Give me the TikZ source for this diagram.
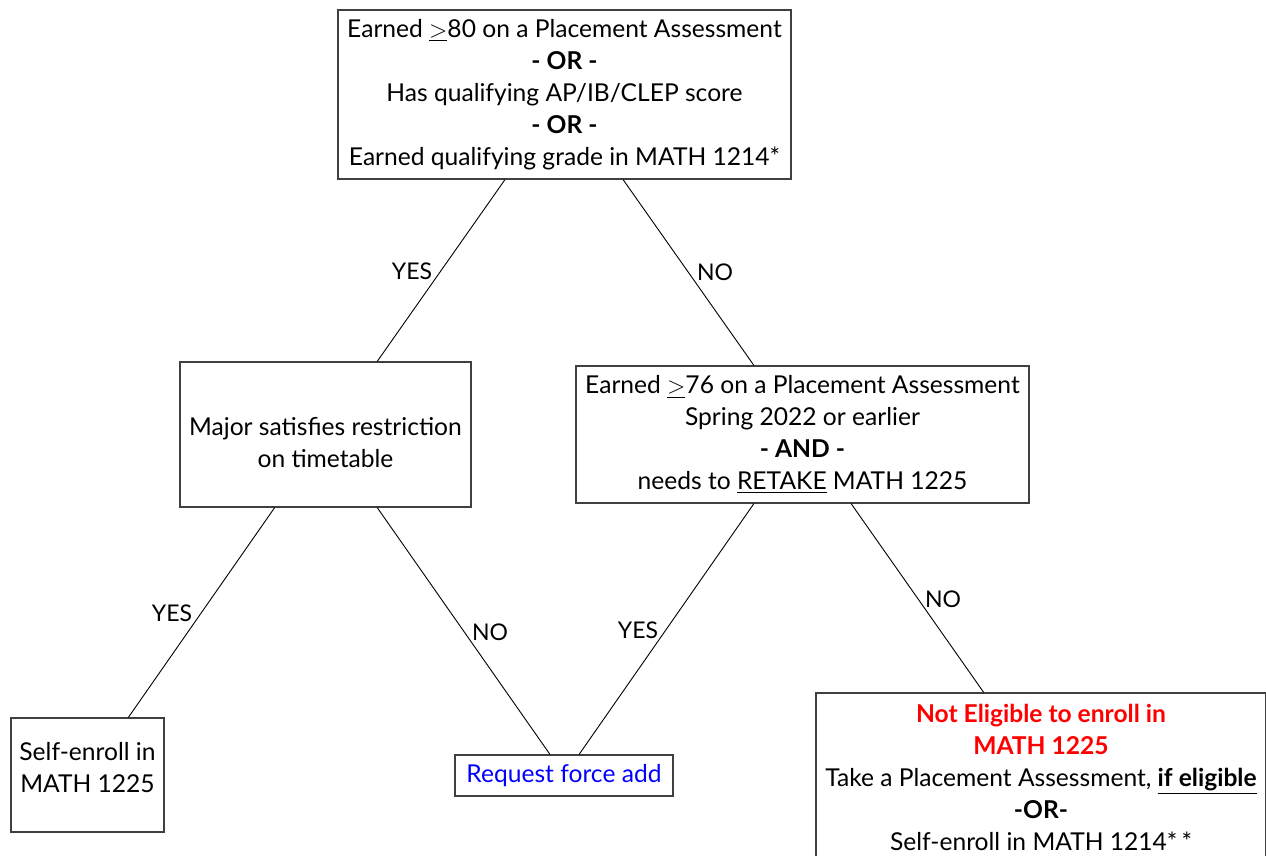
\documentclass[tikz,border=0pt]{standalone}
\usepackage{fontspec}
\setmainfont{Lato}
\usetikzlibrary{calc}

\begin{document}
\begin{tikzpicture}[
x=0.5pt, y=-0.5pt,
box/.style={draw=black!75, line width=0.6pt, rectangle, inner sep=0pt, align=center, font=\fontsize{12.3}{16}\selectfont},
branch/.style={black, line width=0.45pt},
answer/.style={inner sep=0pt, font=\fontsize{11.5}{14}\selectfont}
]
\useasboundingbox (0,0) rectangle (1266,856);

\node[box, minimum width=226.5pt, minimum height=84.5pt] (placed) at (564.5, 94.5)
  {Earned $\underline{>}$80 on a Placement Assessment\\ \textbf{- OR -}\\ Has qualifying AP/IB/CLEP score\\ \textbf{- OR -}\\ Earned qualifying grade in MATH 1214*};

\node[box, minimum width=145.5pt, minimum height=72.5pt] (major) at (325.5, 434.5)
  {\mbox{}\\[1pt]Major satisfies restriction\\ on timetable};

\node[box, minimum width=226.5pt, minimum height=68.5pt] (retake) at (802.5, 434.5)
  {Earned $\underline{>}$76 on a Placement Assessment\\ Spring 2022 or earlier\\ \textbf{- AND -}\\ needs to \underline{RETAKE} MATH 1225};

\node[box, minimum width=76.5pt, minimum height=57pt] (self) at (87.5, 775)
  {Self-enroll in\\ MATH 1225\\[-8pt]};

\node[box, minimum width=109pt, minimum height=20.5pt] (force) at (564, 775.5)
  {\textcolor{blue}{Request force add}};

\node[box, minimum width=225pt, minimum height=84pt] (noelig) at (1041, 777)
  {\textcolor{red}{\textbf{Not Eligible to enroll in}}\\ \textcolor{red}{\textbf{MATH 1225}}\\ Take a Placement Assessment, \underline{\textbf{if eligible}}\\ \textbf{-OR-}\\ Self-enroll in MATH 1214*\,*};

% branches
\draw[branch] ($(placed.south west)!0.369!(placed.south east)$) -- ($(major.north west)!0.677!(major.north east)$);
\draw[branch] ($(placed.south west)!0.629!(placed.south east)$) -- ($(retake.north west)!0.393!(retake.north east)$);
\draw[branch] ($(major.south west)!0.326!(major.south east)$) -- ($(self.north west)!0.765!(self.north east)$);
\draw[branch] ($(major.south west)!0.677!(major.south east)$) -- ($(force.north west)!0.436!(force.north east)$);
\draw[branch] ($(retake.south west)!0.393!(retake.south east)$) -- ($(force.north west)!0.569!(force.north east)$);
\draw[branch] ($(retake.south west)!0.607!(retake.south east)$) -- ($(noelig.north west)!0.373!(noelig.north east)$);

\node[answer] (yesA) at (412, 271) {YES};
\node[answer] (noA) at (715, 272) {NO};
\node[answer] (yesB) at (172, 613) {YES};
\node[answer] (noB) at (490, 632) {NO};
\node[answer] (yesC) at (638, 630) {YES};
\node[answer] (noC) at (943, 599) {NO};
\end{tikzpicture}
\end{document}
